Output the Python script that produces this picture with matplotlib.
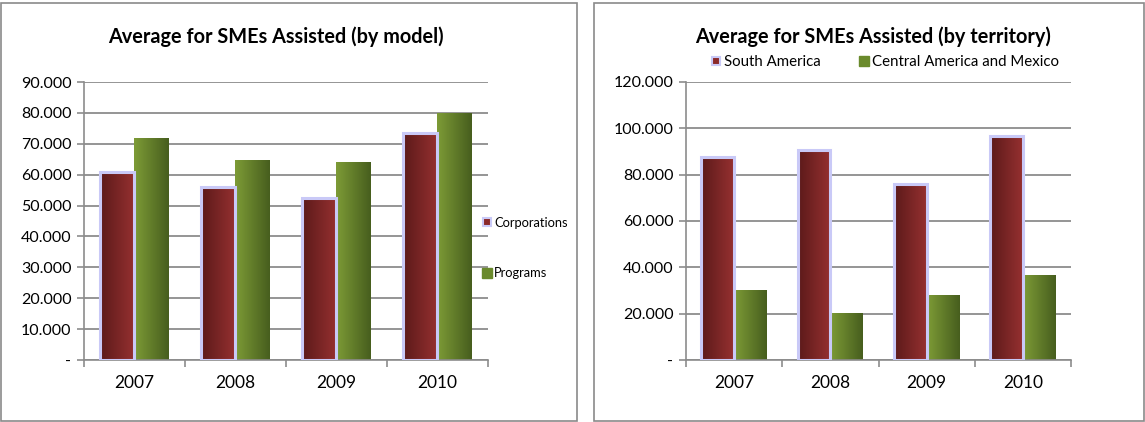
import matplotlib
matplotlib.use("Agg")
import matplotlib.pyplot as plt
import numpy as np
from matplotlib.lines import Line2D
from matplotlib.patches import Rectangle

plt.rcParams['font.family'] = ['Lato', 'DejaVu Sans']

years = ['2007', '2008', '2009', '2010']

# left chart (by model)
corporations = [61000, 56000, 52500, 73500]
programs = [72000, 64800, 64200, 80000]
left_ticks = [0, 10000, 20000, 30000, 40000, 50000, 60000, 70000, 80000, 90000]
left_labels = ['-', '10.000', '20.000', '30.000', '40.000', '50.000',
               '60.000', '70.000', '80.000', '90.000']

# right chart (by territory)
south_america = [87500, 90500, 76000, 96500]
central_america = [30200, 20100, 28000, 36700]
right_ticks = [0, 20000, 40000, 60000, 80000, 100000, 120000]
right_labels = ['-', '20.000', '40.000', '60.000', '80.000', '100.000', '120.000']

RED_L, RED_R = '#5c1a1a', '#953030'
GRN_L, GRN_R = '#7d9b36', '#475e1e'
LAV = '#c9c9f7'
GRID = '#8c8c8c'


def gradient_bars(ax, bars, c_left, c_right):
    cmap = matplotlib.colors.LinearSegmentedColormap.from_list('g', [c_left, c_right])
    grad = np.linspace(0, 1, 64).reshape(1, -1)
    for b in bars:
        x, y = b.get_x(), b.get_y()
        w, h = b.get_width(), b.get_height()
        im = ax.imshow(grad, cmap=cmap, extent=[x, x + w, y, y + h],
                       aspect='auto', zorder=2, interpolation='bicubic')
        im.set_clip_path(b)


def setup_axes(ax, ticks, labels, ymax):
    x = np.arange(len(years))
    ax.set_xlim(-0.5, len(years) - 0.5)
    ax.set_ylim(0, ymax)
    ax.set_yticks(ticks)
    ax.set_yticklabels(labels, fontsize=11.5)
    ax.set_xticks(x)
    ax.set_xticklabels(years, fontsize=12.5)
    ax.tick_params(axis='x', length=0, pad=11)
    ax.set_xticks(np.arange(len(years) + 1) - 0.5, minor=True)
    ax.tick_params(axis='x', which='minor', length=5, color=GRID, width=1.2)
    ax.tick_params(axis='y', length=5, color=GRID, width=1.2, pad=4)
    for s in ['top', 'right']:
        ax.spines[s].set_visible(False)
    for s in ['left', 'bottom']:
        ax.spines[s].set_color(GRID)
        ax.spines[s].set_linewidth(1.2)
    ax.yaxis.grid(True, color=GRID, linewidth=1.3)
    ax.set_axisbelow(True)


def draw_pair(ax, v1, v2):
    x = np.arange(len(years))
    w = 0.34
    ax.bar(x - w / 2, v1, w, facecolor='none', edgecolor=LAV, linewidth=2.2, zorder=3)
    b1i = ax.bar(x - w / 2, v1, w, facecolor='none', edgecolor='none', zorder=1)
    b2 = ax.bar(x + w / 2, v2, w, facecolor='none', edgecolor='none', zorder=1)
    gradient_bars(ax, b1i, RED_L, RED_R)
    gradient_bars(ax, b2, GRN_L, GRN_R)


def legend_handles():
    return [Line2D([], [], marker='s', linestyle='none', markersize=6,
                   markerfacecolor='#8b2a2a', markeredgecolor=LAV, markeredgewidth=1.5),
            Line2D([], [], marker='s', linestyle='none', markersize=7,
                   markerfacecolor='#6a8a2c', markeredgecolor='#6a8a2c')]


fig = plt.figure(figsize=(11.45, 4.22), dpi=100)

# panel borders
fig.add_artist(Rectangle((1 / 1145, 1 - 421 / 422), 576 / 1145, 418 / 422,
                         transform=fig.transFigure, fill=False,
                         edgecolor='#8a8a8a', linewidth=1.2))
fig.add_artist(Rectangle((594 / 1145, 1 - 421 / 422), 550 / 1145, 418 / 422,
                         transform=fig.transFigure, fill=False,
                         edgecolor='#8a8a8a', linewidth=1.2))

ax1 = fig.add_axes([84 / 1145, 1 - 360 / 422, 404 / 1145, 278 / 422])
setup_axes(ax1, left_ticks, left_labels, 90000)
draw_pair(ax1, corporations, programs)
fig.text(276 / 1145, 1 - 37 / 422, 'Average for SMEs Assisted (by model)',
         ha='center', va='center', fontsize=14.3, fontweight='bold')

fig.legend(legend_handles(), ['Corporations', 'Programs'], loc='center left',
           bbox_to_anchor=(478 / 1145, 1 - 248 / 422), frameon=False,
           fontsize=9.3, handlelength=0.6, handletextpad=0.25, labelspacing=3.0,
           borderaxespad=0)

ax2 = fig.add_axes([686 / 1145, 1 - 360 / 422, 385 / 1145, 278 / 422])
setup_axes(ax2, right_ticks, right_labels, 120000)
draw_pair(ax2, south_america, central_america)
fig.text(873 / 1145, 1 - 37 / 422, 'Average for SMEs Assisted (by territory)',
         ha='center', va='center', fontsize=14.3, fontweight='bold')

fig.legend(legend_handles(), ['South America', 'Central America and Mexico'],
           loc='center left', bbox_to_anchor=(705 / 1145, 1 - 62 / 422),
           frameon=False, ncol=2, fontsize=10.8, handlelength=0.6,
           handletextpad=0.25, columnspacing=2.6, borderaxespad=0)

fig.savefig('out.png', dpi=100)
